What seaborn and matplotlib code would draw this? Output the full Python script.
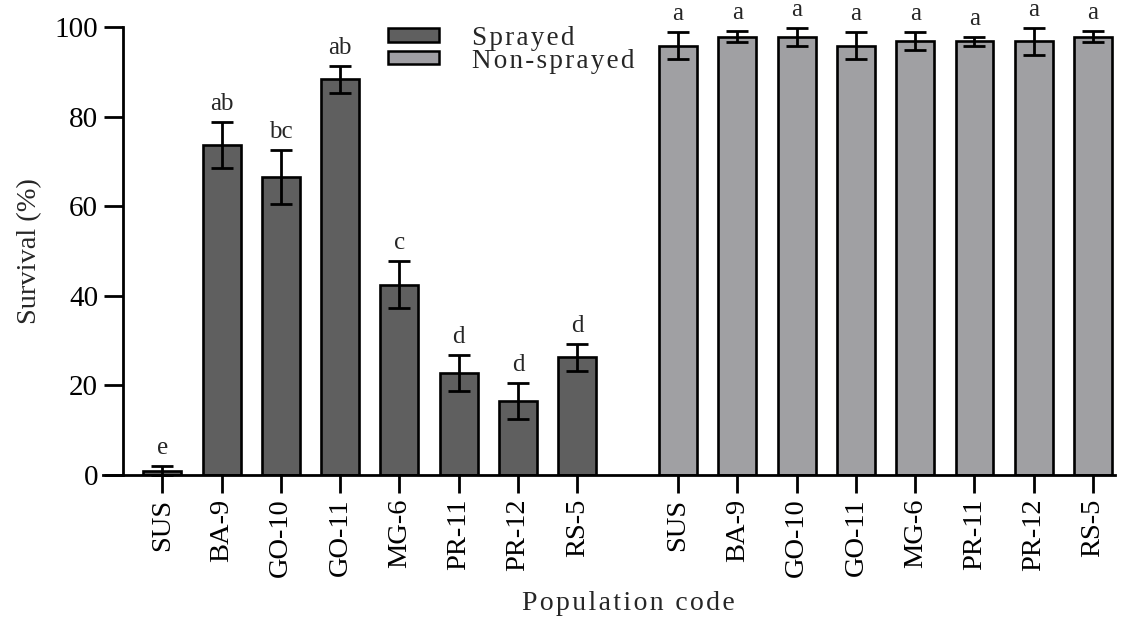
import numpy as np
import pandas as pd
import matplotlib
matplotlib.use("Agg")
import matplotlib.pyplot as plt
import seaborn as sns
from matplotlib.patches import Patch

populations = ["SUS", "BA-9", "GO-10", "GO-11", "MG-6", "PR-11", "PR-12", "RS-5"]
sprayed_mean = [1.0, 73.7, 66.5, 88.3, 42.5, 22.8, 16.5, 26.3]
sprayed_err = [1.0, 5.1, 6.0, 3.0, 5.2, 4.0, 4.0, 3.0]
sprayed_letters = ["e", "ab", "bc", "ab", "c", "d", "d", "d"]
nonsprayed_mean = [95.8, 97.8, 97.8, 95.8, 96.8, 96.8, 96.8, 97.8]
nonsprayed_err = [3.0, 1.2, 2.0, 3.0, 2.0, 1.0, 3.0, 1.2]
nonsprayed_letters = ["a"] * 8
groups = ["Sprayed", "Non-sprayed"]
colors = ["#5f5f5f", "#a09fa4"]
x_title = "Population code"
y_title = "Survival (%)"

sns.set_theme(style="ticks")
plt.rcParams["font.family"] = ["Liberation Serif", "DejaVu Serif"]


def spaced(s):
    return "\u200a".join(list(s))


GAP = 1.7
n = len(populations)
pos_left = np.arange(n, dtype=float)
pos_right = np.arange(n, dtype=float) + (n - 1) + GAP

df = pd.DataFrame({
    "pos": np.concatenate([pos_left, pos_right]),
    "survival": sprayed_mean + nonsprayed_mean,
    "err": sprayed_err + nonsprayed_err,
    "group": [groups[0]] * n + [groups[1]] * n,
    "letter": sprayed_letters + nonsprayed_letters,
    "label": populations + populations,
})

fig = plt.figure(figsize=(11.22, 6.17), dpi=100)
ax = fig.add_axes([103 / 1122, 1 - 475 / 617, (1115 - 103) / 1122, (475 - 27) / 617])

sns.barplot(data=df, x="pos", y="survival", hue="group", native_scale=True,
            palette=colors, dodge=False, width=0.64, errorbar=None,
            edgecolor="black", linewidth=1.9, legend=False, ax=ax)

ax.errorbar(df["pos"], df["survival"], yerr=df["err"], fmt="none",
            ecolor="black", elinewidth=2.0, capsize=8, capthick=2.0, zorder=5,
            clip_on=False)

for x, y, e, t in zip(df["pos"], df["survival"], df["err"], df["letter"]):
    ax.text(x, y + e + 1.6, t, ha="center", va="bottom", fontsize=18, clip_on=False)

ax.set_xlim(-1.0, 16.07)
ax.set_ylim(0, 100)
ax.set_yticks([0, 20, 40, 60, 80, 100])
ax.set_xticks(df["pos"])
ax.set_xticklabels(df["label"], rotation=90)
ax.tick_params(axis="y", length=14, width=2, labelsize=21, pad=4, colors="black")
ax.tick_params(axis="x", length=13, width=2, labelsize=20.5, pad=4, colors="black")

for s in ["top", "right"]:
    ax.spines[s].set_visible(False)
ax.spines["left"].set_position(("data", -0.66))
ax.spines["left"].set_linewidth(2)
ax.spines["bottom"].set_linewidth(2)
ax.spines["left"].set_color("black")
ax.spines["bottom"].set_color("black")

ax.set_ylabel(y_title, fontsize=20.5)
ax.yaxis.set_label_coords(-0.06, 0.5)
ax.set_xlabel(spaced(x_title), fontsize=20)
ax.xaxis.set_label_coords(0.519, -0.258)

handles = [Patch(facecolor=c, edgecolor="black", linewidth=1.8, label=spaced(g)) for c, g in zip(colors, groups)]
ax.legend(handles=handles, loc="upper left", bbox_to_anchor=(0.2705, 1.027), frameon=False,
          fontsize=19.5, handlelength=1.9, handleheight=0.37, labelspacing=-0.08, handletextpad=1.2,
          borderaxespad=0)

fig.savefig("out.png", dpi=100)
